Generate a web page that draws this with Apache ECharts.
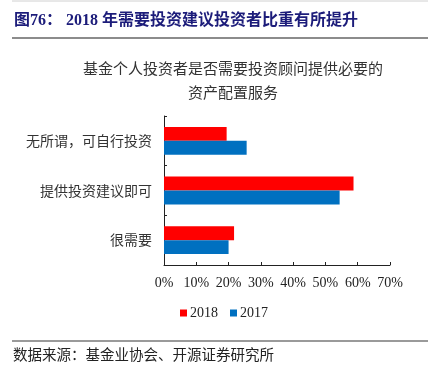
<!DOCTYPE html>
<html>
<head>
<meta charset="utf-8">
<script src="https://cdn.jsdelivr.net/npm/echarts@6/dist/echarts.min.js"></script>
<style>
  html, body { margin: 0; padding: 0; background: #fff; }
  #chartMain { width: 428px; height: 377px; }
</style>
</head>
<body>
<div id="chartMain"></div>
<script>
// 分类与数据
var categories = ['无所谓，可自行投资', '提供投资建议即可', '很需要'];
var data2018 = [19.4, 58.7, 21.7];
var data2017 = [25.6, 54.4, 20.0];
var seriesNames = ['2018', '2017'];

var serifFont = '"Liberation Serif", "Noto Sans CJK SC", serif';
var cjkFont = '"Noto Sans CJK SC", serif';

var myChart = echarts.init(document.getElementById('chartMain'));

myChart.setOption({
    animation: false,
    backgroundColor: '#fff',
    title: {
        text: '基金个人投资者是否需要投资顾问提供必要的\n资产配置服务',
        left: 228,
        textAlign: 'center',
        top: 51,
        textStyle: {
            fontFamily: cjkFont,
            fontSize: 15,
            fontWeight: 'normal',
            color: '#333',
            lineHeight: 24
        }
    },
    graphic: [
        { type: 'line', shape: { x1: 12, y1: 1, x2: 428, y2: 1 }, style: { stroke: '#d0d0d0', lineWidth: 1 } },
        { type: 'text', left: 14, top: 13, style: { text: '图76： 2018 年需要投资建议投资者比重有所提升', fill: '#1c1c7a', font: 'bold 16px ' + serifFont } },
        { type: 'line', shape: { x1: 12, y1: 38, x2: 428, y2: 38 }, style: { stroke: '#8c8c8c', lineWidth: 2 } },
        { type: 'line', shape: { x1: 12, y1: 341, x2: 428, y2: 341 }, style: { stroke: '#9a9a9a', lineWidth: 2 } },
        { type: 'text', left: 13, top: 347, style: { text: '数据来源：基金业协会、开源证券研究所', fill: '#222', font: '14.5px ' + cjkFont } }
    ],
    legend: {
        data: seriesNames,
        left: 175,
        top: 301,
        itemWidth: 7,
        itemHeight: 7,
        itemGap: 12,
        icon: 'rect',
        textStyle: { fontFamily: serifFont, fontSize: 14, color: '#222', padding: [0, 0, 0, -2] }
    },
    grid: { left: 164, right: 38, top: 116, bottom: 112 },
    xAxis: {
        type: 'value',
        min: 0,
        max: 70,
        interval: 10,
        axisLine: { show: true, lineStyle: { color: '#222', width: 1 } },
        axisTick: { show: true, inside: true, length: 3, lineStyle: { color: '#222' } },
        splitLine: { show: false },
        axisLabel: { formatter: '{value}%', margin: 11, fontFamily: serifFont, fontSize: 14, color: '#222' }
    },
    yAxis: {
        type: 'category',
        inverse: true,
        data: categories,
        axisLine: { show: true, lineStyle: { color: '#222', width: 1 } },
        axisTick: { show: true, inside: true, length: 3, lineStyle: { color: '#222' } },
        axisLabel: { margin: 12, fontFamily: cjkFont, fontSize: 14, color: '#333' }
    },
    series: [
        { name: seriesNames[0], type: 'bar', data: data2018, itemStyle: { color: '#ff0000' }, barGap: '0%', barCategoryGap: '44%' },
        { name: seriesNames[1], type: 'bar', data: data2017, itemStyle: { color: '#0070c0' }, barGap: '0%', barCategoryGap: '44%' }
    ]
});
</script>
</body>
</html>
